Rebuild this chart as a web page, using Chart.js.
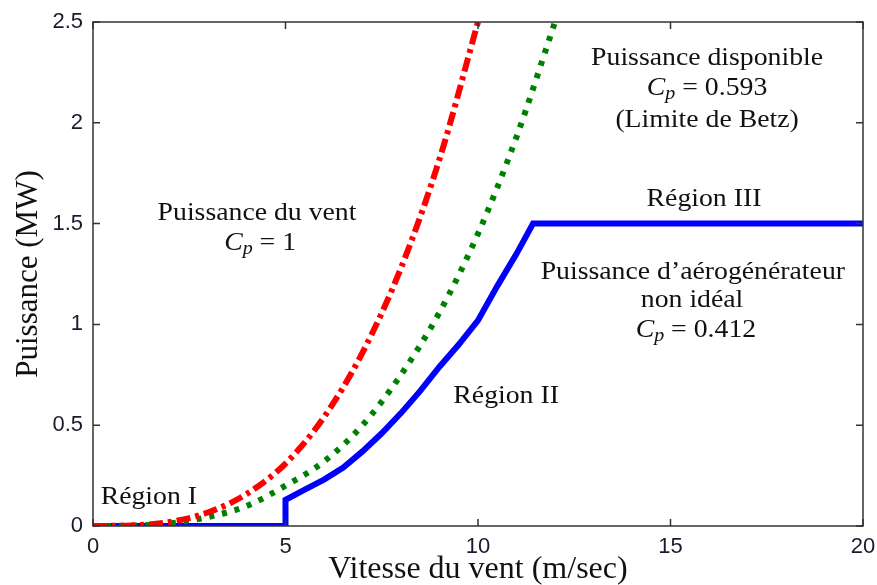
<!DOCTYPE html>
<html lang="fr">
<head>
    <meta charset="UTF-8">
    <title>Puissance du vent</title>
    <script src="https://cdn.jsdelivr.net/npm/chart.js"></script>
    <style>
        body { margin: 0; background: #fff; }
        .chart-container { position: relative; width: 877px; height: 585px; }
    </style>
</head>
<body>
    <div class="chart-container">
        <canvas id="ventChart"></canvas>
    </div>

    <script>
        // Puissance du vent, Cp = 1 (rouge)
        const redSpeed = [0, 1, 2, 3, 4, 5, 6, 7, 8, 9, 10];
        const redPower = [0, 0.003, 0.02, 0.068, 0.16, 0.31, 0.54, 0.86, 1.28, 1.82, 2.5];

        // Puissance disponible, Cp = 0.593 (vert)
        const greenSpeed = [0, 1, 2, 3, 4, 5, 6, 7, 8, 9, 10, 11, 12];
        const greenPower = [0, 0.002, 0.013, 0.045, 0.1, 0.2, 0.32, 0.5, 0.75, 1.06, 1.45, 1.93, 2.5];

        // Puissance d'aérogénérateur, Cp = 0.412 (bleu)
        const blueSpeed = [0, 5, 5, 5.5, 6, 6.5, 7, 7.5, 8, 8.5, 9, 9.5, 10, 10.5, 11, 11.43, 20];
        const bluePower = [0, 0, 0.13, 0.18, 0.23, 0.29, 0.37, 0.46, 0.56, 0.67, 0.79, 0.9, 1.02, 1.19, 1.35, 1.5, 1.5];

        const xTicks = [0, 5, 10, 15, 20];
        const yTicks = [0, 0.5, 1, 1.5, 2, 2.5];

        const toPoints = (xs, ys) => xs.map((v, i) => ({ x: v, y: ys[i] }));

        // texte des annotations, C_p écrit avec indice
        const serif = '"Liberation Serif", "Times New Roman", serif';
        const cp = (rest) => [
            { t: 'C', font: 'italic 25px ' + serif, dy: 0 },
            { t: 'p', font: 'italic 18px ' + serif, dy: 6 },
            { t: rest, font: '25px ' + serif, dy: 0 }
        ];
        const plain = (t) => [{ t: t, font: '25px ' + serif, dy: 0 }];

        const notes = [
            { x: 4.26, y: 1.55, seg: plain('Puissance du vent') },
            { x: 4.34, y: 1.40, seg: cp(' = 1') },
            { x: 15.95, y: 2.32, seg: plain('Puissance disponible') },
            { x: 15.95, y: 2.17, seg: cp(' = 0.593') },
            { x: 15.95, y: 2.01, seg: plain('(Limite de Betz)') },
            { x: 15.87, y: 1.62, seg: plain('Région III') },
            { x: 15.58, y: 1.26, seg: plain('Puissance d\u2019aérogénérateur') },
            { x: 15.56, y: 1.12, seg: plain('non idéal') },
            { x: 15.66, y: 0.97, seg: cp(' = 0.412') },
            { x: 10.73, y: 0.645, seg: plain('Région II') },
            { x: 1.45, y: 0.144, seg: plain('Région I') }
        ];

        const stretch = 1.11;

        const notesPlugin = {
            id: 'notes',
            afterDatasetsDraw(chart) {
                const { ctx, scales: { x, y } } = chart;
                ctx.save();
                ctx.fillStyle = '#111';
                ctx.textBaseline = 'middle';
                ctx.textAlign = 'left';
                notes.forEach(n => {
                    let w = 0;
                    n.seg.forEach(s => { ctx.font = s.font; w += ctx.measureText(s.t).width; });
                    const cx = x.getPixelForValue(n.x);
                    const cy = y.getPixelForValue(n.y);
                    ctx.save();
                    ctx.translate(cx, cy);
                    ctx.scale(stretch, 1);
                    let px = -w / 2;
                    n.seg.forEach(s => {
                        ctx.font = s.font;
                        ctx.fillText(s.t, px, s.dy);
                        px += ctx.measureText(s.t).width;
                    });
                    ctx.restore();
                });
                ctx.restore();
            }
        };

        // cadre et graduations vers l'intérieur (style MATLAB)
        const framePlugin = {
            id: 'frame',
            afterDraw(chart) {
                const { ctx, chartArea: a, scales: { x, y } } = chart;
                ctx.save();
                ctx.strokeStyle = '#333';
                ctx.lineWidth = 1.5;
                ctx.strokeRect(a.left, a.top, a.right - a.left, a.bottom - a.top);
                ctx.beginPath();
                const len = 7;
                x.ticks.forEach(t => {
                    const p = x.getPixelForValue(t.value);
                    ctx.moveTo(p, a.bottom); ctx.lineTo(p, a.bottom - len);
                    ctx.moveTo(p, a.top); ctx.lineTo(p, a.top + len);
                });
                y.ticks.forEach(t => {
                    const p = y.getPixelForValue(t.value);
                    ctx.moveTo(a.left, p); ctx.lineTo(a.left + len, p);
                    ctx.moveTo(a.right, p); ctx.lineTo(a.right - len, p);
                });
                ctx.stroke();
                ctx.restore();
            }
        };

        const tickFont = { family: '"Liberation Sans", Arial, sans-serif', size: 22 };

        new Chart(document.getElementById('ventChart'), {
            type: 'line',
            data: {
                datasets: [
                    {
                        label: 'Cp = 1',
                        data: toPoints(redSpeed, redPower),
                        borderColor: '#ff0000',
                        borderWidth: 6,
                        borderDash: [14, 5, 4, 5],
                        cubicInterpolationMode: 'monotone',
                        pointRadius: 0
                    },
                    {
                        label: 'Cp = 0.593',
                        data: toPoints(greenSpeed, greenPower),
                        borderColor: '#008000',
                        borderWidth: 6,
                        borderDash: [5, 8],
                        cubicInterpolationMode: 'monotone',
                        pointRadius: 0
                    },
                    {
                        label: 'Cp = 0.412',
                        data: toPoints(blueSpeed, bluePower),
                        borderColor: '#0000ff',
                        borderWidth: 6,
                        tension: 0,
                        pointRadius: 0
                    }
                ]
            },
            options: {
                responsive: true,
                maintainAspectRatio: false,
                animation: false,
                devicePixelRatio: 1,
                layout: { padding: { top: 22, right: 14, left: 0, bottom: 0 } },
                scales: {
                    x: {
                        type: 'linear',
                        min: 0,
                        max: 20,
                        afterBuildTicks: s => { s.ticks = xTicks.map(v => ({ value: v })); },
                        afterFit: s => { s.height = 59; s.paddingRight = 0; s.paddingLeft = 0; },
                        grid: { display: false, drawTicks: false },
                        border: { display: false },
                        ticks: { font: tickFont, color: '#1a1a2e', padding: 8, callback: v => String(v), maxRotation: 0 },
                        title: {
                            display: true,
                            text: 'Vitesse du vent (m/sec)',
                            color: '#111',
                            font: { family: '"Liberation Serif", "Times New Roman", serif', size: 32, lineHeight: 1 },
                            padding: { top: 0, bottom: -1 }
                        }
                    },
                    y: {
                        min: 0,
                        max: 2.5,
                        afterBuildTicks: s => { s.ticks = yTicks.map(v => ({ value: v })); },
                        afterFit: s => { s.width = 93; s.paddingTop = 0; s.paddingBottom = 0; },
                        grid: { display: false, drawTicks: false },
                        border: { display: false },
                        ticks: { font: tickFont, color: '#1a1a2e', padding: 10, callback: v => String(v) },
                        title: {
                            display: true,
                            text: 'Puissance (MW)',
                            color: '#111',
                            font: { family: '"Liberation Serif", "Times New Roman", serif', size: 31, lineHeight: 1 },
                            padding: { top: 13, bottom: 0 }
                        }
                    }
                },
                plugins: {
                    legend: { display: false },
                    tooltip: { enabled: false }
                }
            },
            plugins: [notesPlugin, framePlugin]
        });
    </script>
</body>
</html>
